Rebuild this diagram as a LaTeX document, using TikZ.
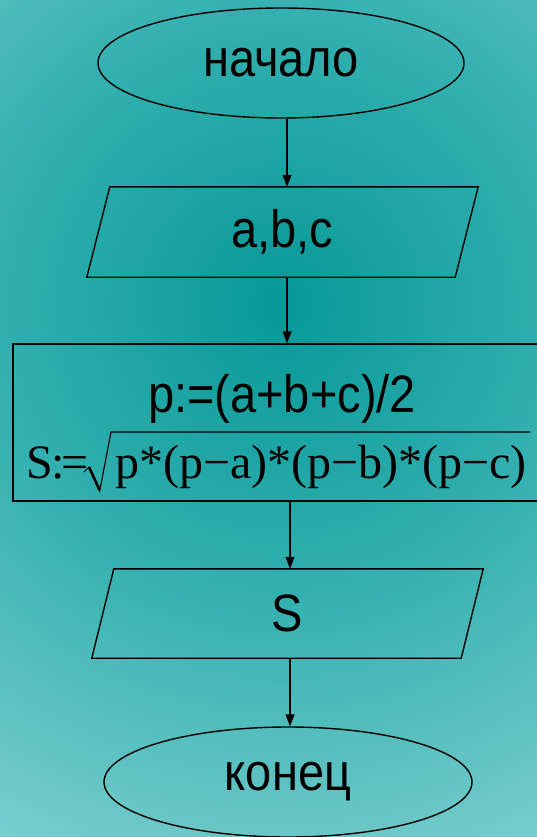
\documentclass[tikz,border=0pt]{standalone}
\usepackage{fontspec}
\setmainfont{Liberation Sans}
\newfontfamily\timesf{Liberation Serif}
\usetikzlibrary{arrows.meta,shapes.geometric}
\definecolor{bgA}{RGB}{8,152,152}
\definecolor{bgB}{RGB}{52,176,176}
\definecolor{bgC}{RGB}{110,200,200}
\definecolor{bgD}{RGB}{125,208,208}
\pgfdeclareradialshading{bgshade}{\pgfpointorigin}{color(0bp)=(bgA); color(11.7bp)=(bgB); color(22bp)=(bgC); color(25bp)=(bgD); color(50bp)=(bgD)}
\newcommand\tallt[1]{\scalebox{1}[1.12]{#1}}
\begin{document}
\begin{tikzpicture}[x=1pt,y=-1pt,
  flow/.style={draw=black, line width=1.4pt, inner sep=0pt},
  term/.style={flow, ellipse, minimum width=366pt, minimum height=110pt, font=\fontsize{47}{50}\selectfont},
  iobox/.style={inner sep=0pt, minimum width=368pt, minimum height=90pt, font=\fontsize{47}{50}\selectfont},
  pgram/.style={draw=black, line width=1.4pt, line join=miter},
  sans/.style={inner sep=0pt, font=\fontsize{47}{50}\selectfont},
  serif/.style={inner sep=0pt, font=\timesf\fontsize{48}{50}\selectfont},
  arr/.style={-{Triangle[length=12pt,width=9pt]}, line width=1.4pt}]
\clip (0,0) rectangle (537,837);
\shade[shading=bgshade] (280,305) circle (620);
\coordinate (xa) at (287,0);
\coordinate (xb) at (290,0);
\node[term] (start) at (281,63) {\tallt{начало}};
\node[iobox] (in) at (282.5,232) {\tallt{a,b,c}};
\draw[pgram] ([xshift=-11.5pt]in.south west) -- ([xshift=11.5pt]in.north west) -- ([xshift=11.5pt]in.north east) -- ([xshift=-11.5pt]in.south east) -- cycle;
\node[flow, rectangle, minimum width=547pt, minimum height=157pt] (proc) at (286.5,422.5) {};
\node[sans, anchor=base] (l1) at (282,412) {\tallt{p:=(a+b+c)/2}};
\node[serif, anchor=base west] (l2a) at (26,478) {S\kern-1pt:\kern-4pt=};
\node[serif, anchor=base west] (l2b) at (115,478) {p*(p−a)*(p−b)*(p−c)};
\draw[line width=1pt] (84,472) -- (89,467);
\draw[line width=2.6pt] (89,467) -- (99.5,490);
\draw[line width=1.1pt] (99.5,492) -- (111,432) -- (530,432);
\node[iobox, minimum height=89pt, minimum width=369pt] (out) at (287.5,613.5) {\tallt{S}};
\draw[pgram] ([xshift=-11pt]out.south west) -- ([xshift=11pt]out.north west) -- ([xshift=11pt]out.north east) -- ([xshift=-11pt]out.south east) -- cycle;
\node[term, minimum width=368pt] (end) at (288,782) {\tallt{конец}};
\draw[arr] (start.south -| xa) -- (in.north -| xa);
\draw[arr] (in.south -| xa) -- (proc.north -| xa);
\draw[arr] (proc.south -| xb) -- (out.north -| xb);
\draw[arr] (out.south -| xb) -- (end.north -| xb);
\end{tikzpicture}
\end{document}
